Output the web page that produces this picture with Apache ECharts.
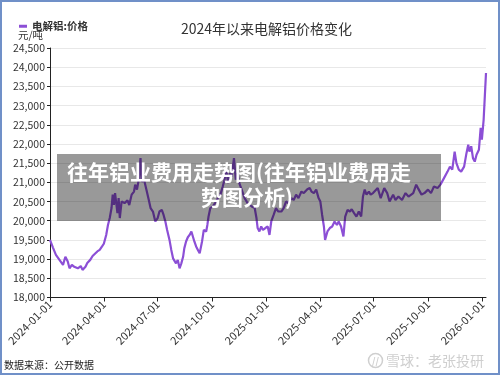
<!DOCTYPE html>
<html><head><meta charset="utf-8">
<script src="https://cdn.jsdelivr.net/npm/echarts@6/dist/echarts.min.js"></script>
<style>html,body{margin:0;padding:0;background:#fff}#c{width:500px;height:375px}</style>
</head><body><div id="c"></div>
<script>
// ---- data ----
const chartTitle = '2024年以来电解铝价格变化';
const seriesName = '电解铝:价格';
const unitName = '元/吨';
const sourceNote = '数据来源：公开数据';
const overlayLine1 = '往年铝业费用走势图(往年铝业费用走';
const overlayLine2 = '势图分析)';
const watermark = '雪球：老张投研';
const startDate = '2024-01-01';
// days after startDate
const dayOffsets = [0,3,5,10,16,22,26,30,33,37,
 41,47,52,55,60,63,68,72,75,80,
 84,88,91,95,98,101,104,106,108,110,
 114,116,118,121,126,131,134,138,142,144,
 147,150,153,155,159,163,167,170,174,178,
 182,185,189,192,195,198,202,205,208,211,
 213,216,219,222,225,227,230,233,236,239,
 241,244,247,250,253,257,260,264,266,268,
 271,275,279,284,288,292,295,298,301,304,
 307,311,314,317,320,324,329,334,337,341,
 346,349,351,354,357,360,364,368,371,374,
 378,382,386,391,395,399,403,408,412,416,
 420,425,429,435,439,442,446,450,454,457,
 460,463,465,469,473,477,481,485,488,492,
 496,499,503,507,510,514,518,522,526,529,
 532,535,539,542,546,549,554,559,565,570,
 574,580,584,589,595,601,606,614,619,622,
 628,633,639,644,649,655,660,666,672,676,
 680,684,687,691,695,700,704,707,709,712,
 715,718,721,725,728,730,733,735,737];
const prices = [19500,19480,19300,19110,18980,18850,19060,18940,18760,18850,
 18800,18760,18820,18720,18800,18900,18980,19080,19060,19200,
 19240,19330,19400,19630,19890,20070,20330,20680,20410,20720,
 20200,20590,20070,20500,20460,20530,20410,20680,20760,20940,
 20810,21070,21630,21020,21070,20810,20540,20330,20240,19980,
 20070,20240,20280,20150,19980,19760,19500,19240,19020,19060,
 18890,18980,18760,18890,19060,19280,19460,19570,19630,19720,
 19680,19460,19330,19240,19150,19460,19760,19720,19890,20110,
 20330,20370,20460,20590,20680,20890,21070,21330,20980,21240,
 21150,21630,21070,21240,20980,20810,20590,20460,20500,20370,
 20330,20070,19810,19720,19850,19760,19810,19850,19630,19980,
 20150,20330,20240,20240,20330,20500,20460,20590,20540,20680,
 20590,20760,20720,20820,20850,20760,20720,20810,20590,20500,
 20150,19850,19500,19720,19810,19850,19980,19890,19980,19850,
 19590,20110,20280,20240,20300,20200,20110,20240,20110,20630,
 20810,20680,20760,20680,20720,20720,20850,20590,20850,20720,
 20500,20680,20540,20630,20540,20720,20630,20720,20940,20850,
 20680,20720,20810,20720,20890,20850,20940,21110,21280,21410,
 21330,21800,21500,21330,21280,21410,21760,21980,21800,21940,
 21630,21540,21720,21850,22420,22110,22630,23240,23850];
const xTickLabels = ['2024-01-01','2024-04-01','2024-07-01','2024-10-01','2025-01-01','2025-04-01','2025-07-01','2025-10-01','2026-01-01'];
const yMin = 18000, yMax = 24500, yStep = 500;

// ---- build ----
const DAY = 86400000;
function toUTC(s){ const p = s.split('-').map(Number); return Date.UTC(p[0], p[1]-1, p[2]); }
const t0 = toUTC(startDate);
const tickDays = xTickLabels.map(s => Math.round((toUTC(s) - t0) / DAY));
const labelByDay = {};
tickDays.forEach((d, i) => { labelByDay[d] = xTickLabels[i]; });
const seriesData = dayOffsets.map((d, i) => [d, prices[i]]);
function fmtNum(v){ return String(v).replace(/\B(?=(\d{3})+(?!\d))/g, ','); }

const FONT = '"Noto Sans CJK SC", "Noto Sans", sans-serif';
const chart = echarts.init(document.getElementById('c'), null, {renderer: 'canvas'});
chart.setOption({
  animation: false,
  backgroundColor: '#fff',
  textStyle: {fontFamily: FONT},
  title: {
    text: chartTitle, left: 176, top: 17,
    textStyle: {fontSize: 14, fontWeight: 'normal', color: '#333', fontFamily: FONT}
  },
  legend: {
    left: 14, top: 16, icon: 'rect', itemWidth: 8, itemHeight: 3, itemGap: 6,
    textStyle: {fontSize: 10.5, fontWeight: 'bold', color: '#333', fontFamily: FONT},
    data: [seriesName]
  },
  grid: {left: 50, right: 14, top: 48, bottom: 77.5, containLabel: false},
  xAxis: {
    type: 'value',
    min: 0,
    max: dayOffsets[dayOffsets.length - 1],
    axisLine: {lineStyle: {color: '#222', width: 1}},
    axisTick: {show: true, length: 4, customValues: tickDays, lineStyle: {color: '#222'}},
    axisLabel: {customValues: tickDays, rotate: 45, fontSize: 11, color: '#333', margin: 5,
      formatter: function(v){ return labelByDay[Math.round(v)] || ''; }, fontFamily: FONT},
    splitLine: {show: false}
  },
  yAxis: {
    type: 'value', min: yMin, max: yMax, interval: yStep,
    axisLine: {show: true, lineStyle: {color: '#222', width: 1}},
    axisTick: {show: true, length: 3, lineStyle: {color: '#222'}},
    axisLabel: {fontSize: 10.5, color: '#333', margin: 5, formatter: fmtNum, fontFamily: FONT},
    splitLine: {show: true, lineStyle: {color: '#e8e8e8', width: 1}}
  },
  series: [{
    name: seriesName, type: 'line', data: seriesData, showSymbol: false,
    lineStyle: {color: '#8c4fd6', width: 2.2}, itemStyle: {color: '#8c4fd6'}
  }],
  graphic: [
    {type: 'text', left: 18, top: 30, style: {text: unitName, fill: '#333', font: '10.5px ' + FONT}},
    {type: 'text', left: 4, top: 360, style: {text: sourceNote, fill: '#222', font: '10px ' + FONT}},
    {type: 'rect', shape: {x: 57, y: 154, width: 384, height: 67}, style: {fill: 'rgba(0,0,0,0.40)'}, z: 100},
    {type: 'text', x: 67, y: 172, style: {text: overlayLine1, fill: '#fff', font: 'bold 21px ' + FONT, textAlign: 'left', textVerticalAlign: 'middle'}, z: 101},
    {type: 'text', x: 247, y: 197, style: {text: overlayLine2, fill: '#fff', font: 'bold 21px ' + FONT, textAlign: 'center', textVerticalAlign: 'middle'}, z: 101},
    {type: 'circle', shape: {cx: 375.5, cy: 360.5, r: 7}, style: {fill: 'none', stroke: '#cfcfcf', lineWidth: 1.5}, z: 50},
    {type: 'text', x: 375.5, y: 360.5, style: {text: '//', fill: '#cfcfcf', font: 'bold 9px ' + FONT, textAlign: 'center', textVerticalAlign: 'middle'}, z: 50},
    {type: 'text', x: 386, y: 360.5, style: {text: watermark, fill: '#cfcfcf', font: '14px ' + FONT, textAlign: 'left', textVerticalAlign: 'middle'}, z: 50},
    {type: 'rect', shape: {x: 1, y: 1, width: 498, height: 373}, style: {fill: 'none', stroke: '#7090c8', lineWidth: 2}, z: 200}
  ]
});
</script></body></html>
